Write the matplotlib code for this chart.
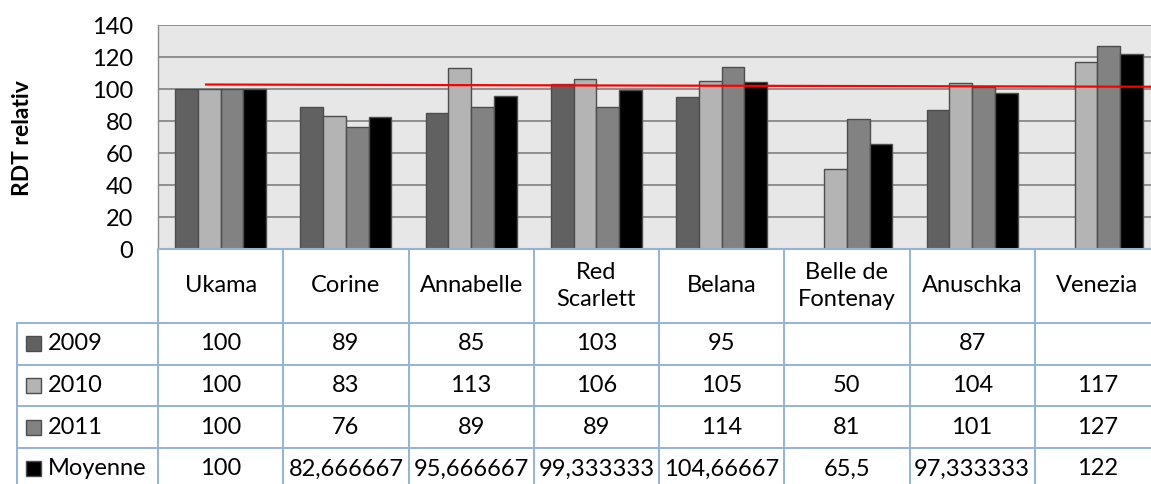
import numpy as np
import matplotlib
matplotlib.use("Agg")
import matplotlib.pyplot as plt
from matplotlib.patches import Rectangle

plt.rcParams['font.family'] = ['Lato', 'DejaVu Sans']

# ---------------- data ----------------
categories = ["Ukama", "Corine", "Annabelle", "Red\nScarlett", "Belana",
              "Belle de\nFontenay", "Anuschka", "Venezia"]
series_names = ["2009", "2010", "2011", "Moyenne"]
v2009 = [100, 89, 85, 103, 95, np.nan, 87, np.nan]
v2010 = [100, 83, 113, 106, 105, 50, 104, 117]
v2011 = [100, 76, 89, 89, 114, 81, 101, 127]
vmoy = [100, 82.666667, 95.666667, 99.333333, 104.66667, 65.5, 97.333333, 122]
yticks = [0, 20, 40, 60, 80, 100, 120, 140]
ylabel = "RDT relativ"
red_line_x = [-0.125, 7.5]
red_line_y = [102.8, 101.4]

series = [v2009, v2010, v2011, vmoy]
colors = ["#616161", "#b4b4b4", "#828282", "#000000"]

# ---------------- layout ----------------
W, H = 1151, 484
fig = plt.figure(figsize=(W / 100, H / 100), dpi=100)
FS = 17

px_left, px_right, px_top, px_bottom = 158, 1160, 25, 249
ax = fig.add_axes([px_left / W, (H - px_bottom) / H,
                   (px_right - px_left) / W, (px_bottom - px_top) / H])
ax.set_facecolor("#e7e7e7")
ax.set_xlim(-0.5, len(categories) - 0.5)
ax.set_ylim(0, 140)
ax.set_yticks(yticks)
ax.set_yticklabels([str(t) for t in yticks], fontsize=FS)
ax.tick_params(axis='y', length=0, pad=18)
ax.set_xticks([])
ax.grid(axis='y', color="#888888", linewidth=1.3)
ax.set_axisbelow(True)
for s in ["top", "right"]:
    ax.spines[s].set_visible(False)
ax.spines["left"].set_color("#888888")
ax.spines["left"].set_linewidth(1.0)
ax.spines["bottom"].set_color("#95b3d7")
ax.spines["bottom"].set_linewidth(1.5)

x = np.arange(len(categories))
w = 1 / 5.5
for k, (vals, col) in enumerate(zip(series, colors)):
    ax.bar(x + (k - 1.5) * w, vals, width=w, color=col,
           edgecolor="#4d4d4d", linewidth=1.0, zorder=2)

ax.plot(red_line_x, red_line_y, color="#ff0000", linewidth=1.6, zorder=3,
        solid_capstyle='butt')

fig.text(23 / W, (H - 138) / H, ylabel, rotation=90, ha='center', va='center',
         fontsize=FS - 0.5, fontweight='bold')

# ---------------- data table ----------------
colw = (px_right - px_left) / len(categories)
tab_left_px = 17
tab = fig.add_axes([tab_left_px / W, (H - 489) / H,
                    (px_right - tab_left_px) / W, 240 / H])
tab.set_xlim(-0.5 - (px_left - tab_left_px) / colw, len(categories) - 0.5)
tab.set_ylim(240, 0)
tab.axis('off')
lc = "#95b3d7"
lw = 1.4
header_h = 74
row_h = 41.7
row_tops = [header_h + i * row_h for i in range(len(series_names))]
xl = tab.get_xlim()[0]
xr = len(categories) - 0.5
# horizontal lines
for yt in row_tops:
    tab.plot([xl, xr], [yt, yt], color=lc, lw=lw, clip_on=False)
# vertical lines
for i in range(len(categories) + 1):
    tab.plot([i - 0.5, i - 0.5], [0, 240], color=lc, lw=lw, clip_on=False)
tab.plot([xl, xl], [header_h, 240], color=lc, lw=lw, clip_on=False)

for i, c in enumerate(categories):
    tab.text(i, header_h / 2, c, ha='center', va='center', fontsize=FS,
             linespacing=1.3)


def fmt(v):
    if v is None or (isinstance(v, float) and np.isnan(v)):
        return ""
    return f"{v:.8g}".replace(".", ",")


sq = 15
for r, (name, vals, col) in enumerate(zip(series_names, series, colors)):
    yc = row_tops[r] + row_h / 2
    tab.add_patch(Rectangle((xl + 9 / colw, yc - sq / 2), sq / colw, sq,
                            facecolor=col, edgecolor="#4d4d4d", lw=1.0,
                            clip_on=False))
    tab.text(xl + 31 / colw, yc, name, ha='left', va='center', fontsize=FS)
    for i, v in enumerate(vals):
        tab.text(i, yc, fmt(v), ha='center', va='center', fontsize=FS)

fig.savefig("out.png", dpi=100)
